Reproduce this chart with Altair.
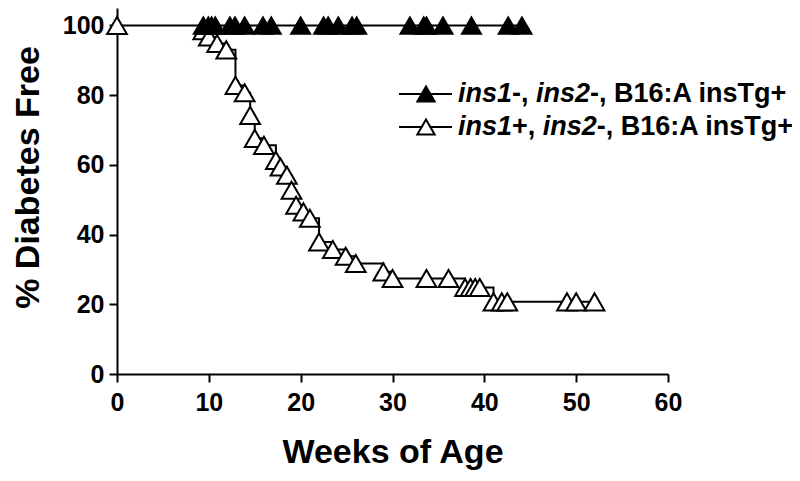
import altair as alt
import pandas as pd

# Filled triangles: ins1-, ins2-, B16:A insTg+ (all remain at 100%)
filled_weeks = [9.4, 9.95, 10.3, 10.7, 12.3, 12.85, 13.9, 15.9, 16.8, 20.0, 22.5,
                23.0, 24.1, 25.6, 26.1, 31.9, 33.4, 33.7, 35.5, 38.6, 42.6, 44.1]
filled_pct = [100] * len(filled_weeks)

# Open triangles: ins1+, ins2-, B16:A insTg+
open_weeks = [0, 9.4, 10.0, 10.9, 11.9, 12.9, 13.9, 14.5, 15.0, 16.0, 17.3, 17.8,
              18.5, 19.0, 19.5, 20.3, 21.0, 22.0, 23.5, 24.9, 26.0, 29.0, 30.0,
              33.7, 36.1, 37.9, 38.5, 39.0, 39.5, 41.0, 41.9, 42.5, 49.0, 50.0, 52.0]
open_pct = [100, 98.5, 96.7, 94.8, 93.0, 82.8, 80.7, 74.2, 67.6, 65.6, 61.3, 59.4,
            57.0, 52.7, 48.4, 46.5, 44.7, 37.9, 35.7, 33.8, 31.7, 29.3, 27.4,
            27.4, 27.4, 24.8, 24.8, 24.8, 24.8, 20.7, 20.7, 20.7, 20.7, 20.7, 20.7]

x_ticks = [0, 10, 20, 30, 40, 50, 60]
y_ticks = [0, 20, 40, 60, 80, 100]

FONT = "Liberation Sans"

filled_df = pd.DataFrame({"week": filled_weeks, "pct": filled_pct})
open_df = pd.DataFrame({"week": open_weeks, "pct": open_pct})

x_enc = alt.X("week:Q", scale=alt.Scale(domain=[0, 60], nice=False),
              axis=alt.Axis(values=x_ticks, title="Weeks of Age", labelPadding=8,
                            titlePadding=20, labelFlush=False))
y_enc = alt.Y("pct:Q", scale=alt.Scale(domain=[0, 105], nice=False),
              axis=alt.Axis(values=y_ticks, title="% Diabetes Free", labelPadding=5,
                            titleX=-72, titleY=169, labelFlush=False))

TRI = 390

open_line = alt.Chart(open_df).mark_line(interpolate="step-after", color="black",
                                         strokeWidth=2).encode(x=x_enc, y=y_enc)
open_pts = alt.Chart(open_df).mark_point(shape="triangle-up", size=TRI, filled=True,
                                         fill="white", stroke="black", strokeWidth=2,
                                         opacity=1).encode(x=x_enc, y=y_enc)
filled_line = alt.Chart(filled_df).mark_line(interpolate="step-after", color="black",
                                             strokeWidth=2).encode(x=x_enc, y=y_enc)
filled_pts = alt.Chart(filled_df).mark_point(shape="triangle-up", size=TRI, filled=True,
                                             fill="black", stroke="black", strokeWidth=1.5,
                                             opacity=1).encode(x=x_enc, y=y_enc)

# ---- manual legend (mixed italic / upright text) ----
LFS = 27
em = {"ins1": 2.001, "ins2": 2.001, "-, ": 0.889, "+, ": 1.14}
legend_rows = [
    ["ins1", "-, ", "ins2", "-, B16:A insTg+"],
    ["ins1", "+, ", "ins2", "-, B16:A insTg+"],
]
row_line_y = [86, 119]
row_base_y = [94, 127]
legend_fill = ["black", "white"]

legend_layers = []
dummy = pd.DataFrame({"k": [0]})
for r, segs in enumerate(legend_rows):
    legend_layers.append(
        alt.Chart(dummy).mark_rule(color="black", strokeWidth=2).encode(
            x=alt.value(282), x2=alt.value(335), y=alt.value(row_line_y[r])))
    legend_layers.append(
        alt.Chart(dummy).mark_point(shape="triangle-up", size=300, filled=True,
                                    fill=legend_fill[r], stroke="black",
                                    strokeWidth=2, opacity=1).encode(
            x=alt.value(309), y=alt.value(row_line_y[r])))
    xpos = 341.0
    for i, s in enumerate(segs):
        italic = (i % 2 == 0)
        legend_layers.append(
            alt.Chart(dummy).mark_text(text=s, align="left", baseline="alphabetic",
                                       font=FONT, fontSize=LFS, fontWeight="bold",
                                       fontStyle="italic" if italic else "normal",
                                       color="black").encode(
                x=alt.value(xpos), y=alt.value(row_base_y[r])))
        xpos += em.get(s, 0) * LFS

chart = alt.layer(open_line, open_pts, filled_line, filled_pts, *legend_layers).properties(
    width=551, height=366,
    autosize=alt.AutoSizeParams(type="none"),
    padding={"left": 109, "top": 0, "right": 124, "bottom": 98},
).configure_view(stroke=None).configure_axis(
    grid=False, domainColor="black", domainWidth=2, tickColor="black", tickWidth=2,
    tickSize=8, labelFont=FONT, labelFontWeight="bold", labelFontSize=25,
    labelColor="black", titleFont=FONT, titleFontWeight="bold", titleFontSize=34,
    titleColor="black")

chart.save("out.html", embed_options={"renderer": "svg", "actions": False})
